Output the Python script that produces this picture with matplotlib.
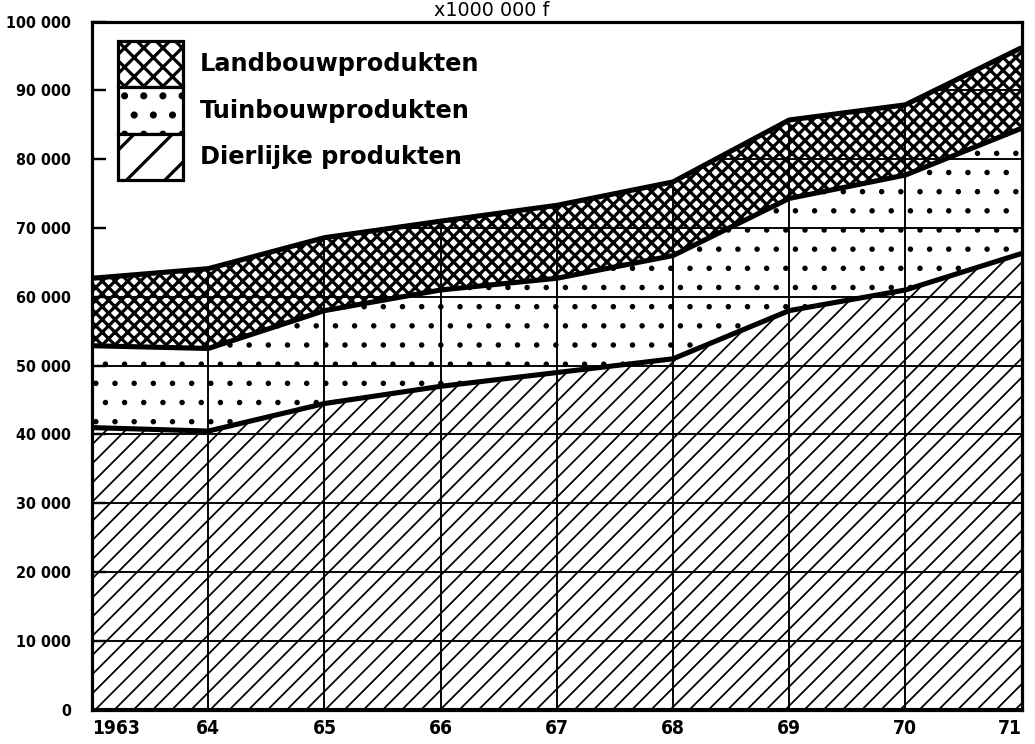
import matplotlib
matplotlib.use('Agg')
import matplotlib.pyplot as plt
import numpy as np
from matplotlib.patches import Patch, Polygon
from matplotlib import font_manager

# data (x 1000 000 f)
years = [1963, 1964, 1965, 1966, 1967, 1968, 1969, 1970, 1971]
year_labels = ['1963', '64', '65', '66', '67', '68', '69', '70', '71']
dierlijke = [41000, 40500, 44500, 47000, 49000, 51000, 58000, 61000, 66300]
tuinbouw = [11900, 12000, 13500, 14000, 13700, 15000, 16300, 16700, 18200]
landbouw = [9800, 11600, 10600, 10000, 10600, 10700, 11400, 10200, 11700]
y_ticks = [0, 10000, 20000, 30000, 40000, 50000, 60000, 70000, 80000, 90000, 100000]
y_labels = ['0', '10 000', '20 000', '30 000', '40 000', '50 000',
            '60 000', '70 000', '80 000', '90 000', '100 000']

labels = ['Landbouwprodukten', 'Tuinbouwprodukten', 'Dierlijke produkten']

names = {f.name for f in font_manager.fontManager.ttflist}
narrow = 'Liberation Sans Narrow' if 'Liberation Sans Narrow' in names else 'DejaVu Sans'
tick_font = dict(family=[narrow, 'DejaVu Sans'], weight='bold', stretch='condensed')

DPI = 115
fig = plt.figure(figsize=(1035 / DPI, 744 / DPI), dpi=DPI)
ax = fig.add_axes([0.089, 0.046, 0.898, 0.925])

x = np.array(years)
c1 = np.array(dierlijke)
c2 = c1 + np.array(tuinbouw)
c3 = c2 + np.array(landbouw)

plt.rcParams['hatch.linewidth'] = 1.1
ax.fill_between(x, 0, c1, facecolor='white', edgecolor='black', hatch='//', lw=0)
plt.rcParams['hatch.linewidth'] = 1.0
ax.fill_between(x, c1, c2, facecolor='white', edgecolor='black', hatch='.', lw=0)
plt.rcParams['hatch.linewidth'] = 2.0
ax.fill_between(x, c2, c3, facecolor='white', edgecolor='black', hatch='xxx', lw=0)

# grid only where the chart is filled
outline = Polygon(np.column_stack([np.r_[x, x[::-1]], np.r_[c3, np.zeros(len(x))]]),
                  closed=True, facecolor='none', edgecolor='none', transform=ax.transData)
ax.add_patch(outline)
hl = ax.hlines(y_ticks, years[0], years[-1], color='black', lw=1.2)
vl = ax.vlines(years, 0, 100000, color='black', lw=1.2)
hl.set_clip_path(outline)
vl.set_clip_path(outline)

for cum in (c1, c2, c3):
    ax.plot(x, cum, color='black', lw=3.2, solid_capstyle='butt')
ax.plot(x, np.zeros(len(x)), color='black', lw=3.2)

ax.set_xlim(1963, 1971)
ax.set_ylim(0, 100000)
ax.set_xticks(years)
ax.set_xticklabels(year_labels, fontdict=dict(tick_font, size=12))
xt = ax.get_xticklabels()
xt[0].set_ha('left')
xt[-1].set_ha('right')
ax.set_yticks(y_ticks)
ax.set_yticklabels(y_labels, fontdict=dict(tick_font, size=10))
ax.tick_params(axis='x', length=0, pad=6)
ax.tick_params(axis='y', direction='in', length=9, width=1.5, pad=13)
for s in ax.spines.values():
    s.set_linewidth(2.0)

handles = [Patch(facecolor='white', edgecolor='black', hatch='xx', lw=2),
           Patch(facecolor='white', edgecolor='black', hatch='.', lw=2),
           Patch(facecolor='white', edgecolor='black', hatch='/', lw=2)]
ax.legend(handles, labels, loc='upper left', bbox_to_anchor=(0.028, 0.972),
          frameon=False, prop=dict(weight='bold', size=15),
          handleheight=2.6, handlelength=2.7, handletextpad=0.7,
          labelspacing=0.0, borderpad=0.0, borderaxespad=0.0)

fig.text(0.475, 0.999, 'x1000 000 f', ha='center', va='top', fontsize=12)

fig.savefig('out.png', dpi=DPI)
